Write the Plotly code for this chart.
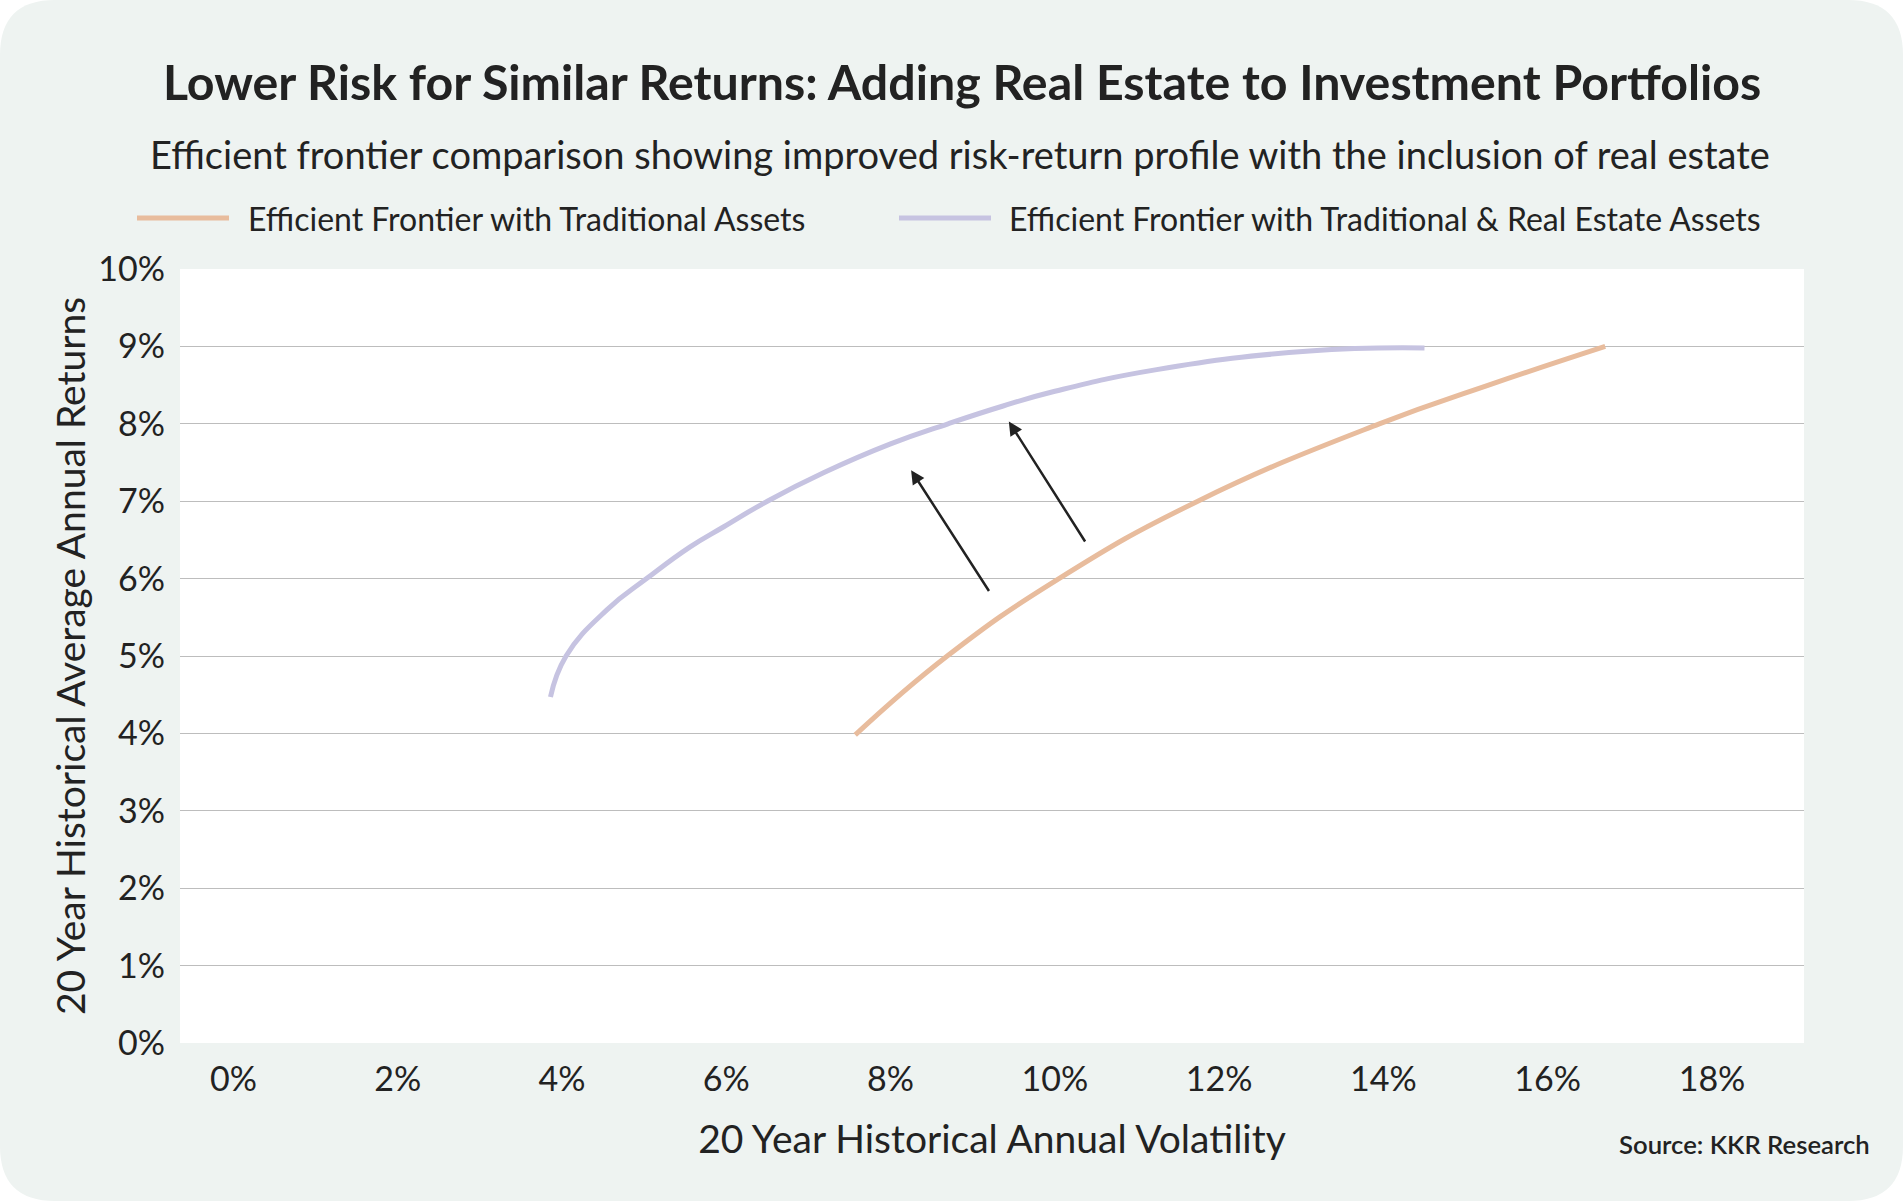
import plotly.graph_objects as go

# ---------------- data ----------------
trad_vol = [7.57, 8.69, 10.05, 11.74, 13.95, 15.28, 16.7]
trad_ret = [3.98, 5.0, 6.0, 7.0, 8.0, 8.5, 9.0]

re_vol = [3.86, 4.05, 4.55, 5.03, 5.56, 5.97, 6.5, 7.19, 8.0, 8.7, 9.37, 10.0, 11.24, 13.1, 14.5]
re_ret = [4.47, 5.0, 5.6, 6.0, 6.41, 6.67, 7.0, 7.37, 7.74, 8.0, 8.23, 8.42, 8.70, 8.94, 8.98]

series_names = ["Efficient Frontier with Traditional Assets",
                "Efficient Frontier with Traditional & Real Estate Assets"]
series_colors = ["#E8BC9D", "#C6C3E1"]

x_ticks = [0, 2, 4, 6, 8, 10, 12, 14, 16, 18]
x_labels = [f"{v}%" for v in x_ticks]
y_ticks = list(range(0, 11))
y_labels = [f"{v}%" for v in y_ticks]

# arrows: (tail_x, tail_y, head_x, head_y)
arrows = [(9.21, 5.82, 8.25, 7.40), (10.38, 6.46, 9.44, 8.03)]

title = "Lower Risk for Similar Returns: Adding Real Estate to Investment Portfolios"
subtitle = "Efficient frontier comparison showing improved risk-return profile with the inclusion of real estate"
x_title = "20 Year Historical Annual Volatility"
y_title = "20 Year Historical Average Annual Returns"
source = "Source: KKR Research"

# ---------------- layout geometry ----------------
W, H = 1903, 1201
L, R, T, B = 180, 99, 269, 158
PW, PH = W - L - R, H - T - B
FONT = "Lato"
TXT = "#222222"
CARD = "#EEF3F1"


def px(x):
    return (x - L) / PW


def py(y):
    return (H - B - y) / PH


fig = go.Figure()
fig.add_trace(go.Scatter(x=trad_vol, y=trad_ret, mode="lines", name=series_names[0],
                         line=dict(color=series_colors[0], width=5, shape="spline", smoothing=1.3),
                         showlegend=False))
fig.add_trace(go.Scatter(x=re_vol, y=re_ret, mode="lines", name=series_names[1],
                         line=dict(color=series_colors[1], width=5, shape="spline", smoothing=1.3),
                         showlegend=False))

shapes = []
# rounded card background
r = 55
path = (f"M {px(r)},{py(0)} L {px(W - r)},{py(0)} Q {px(W)},{py(0)} {px(W)},{py(r)} "
        f"L {px(W)},{py(H - r)} Q {px(W)},{py(H)} {px(W - r)},{py(H)} "
        f"L {px(r)},{py(H)} Q {px(0)},{py(H)} {px(0)},{py(H - r)} "
        f"L {px(0)},{py(r)} Q {px(0)},{py(0)} {px(r)},{py(0)} Z")
shapes.append(dict(type="path", path=path, xref="paper", yref="paper",
                   fillcolor=CARD, line=dict(width=0), layer="below"))
# white plot area
shapes.append(dict(type="rect", xref="paper", yref="paper", x0=0, x1=1, y0=0, y1=1,
                   fillcolor="white", line=dict(width=0), layer="below"))

# custom legend
legend_items = [(137, 229, 246), (899, 991, 1007)]
legend_y = 218
annotations = []
for (x0, x1, xt), name, col in zip(legend_items, series_names, series_colors):
    shapes.append(dict(type="line", xref="paper", yref="paper", x0=px(x0), x1=px(x1),
                       y0=py(legend_y), y1=py(legend_y), line=dict(color=col, width=5)))
    annotations.append(dict(text=name, xref="paper", yref="paper", x=px(xt), y=py(legend_y),
                            xanchor="left", yanchor="middle", showarrow=False,
                            font=dict(family=FONT, size=32, color=TXT)))

annotations.append(dict(text=f"<b>{title}</b>", xref="paper", yref="paper", x=px(962), y=py(81),
                        xanchor="center", yanchor="middle", showarrow=False,
                        font=dict(family=FONT, size=48.3, color=TXT)))
annotations.append(dict(text=subtitle, xref="paper", yref="paper", x=px(960), y=py(154),
                        xanchor="center", yanchor="middle", showarrow=False,
                        font=dict(family=FONT, size=38, color=TXT)))
annotations.append(dict(text=source, xref="paper", yref="paper", x=px(1872), y=py(1144),
                        xanchor="right", yanchor="middle", showarrow=False,
                        font=dict(family=FONT, size=25.7, color=TXT, weight=600)))
# y axis title
annotations.append(dict(text=y_title, xref="paper", yref="paper", x=px(70), y=0.5,
                        xanchor="center", yanchor="middle", textangle=-90, showarrow=False,
                        font=dict(family=FONT, size=39, color=TXT)))

for tx, ty, hx, hy in arrows:
    annotations.append(dict(x=hx, y=hy, ax=tx, ay=ty, xref="x", yref="y", axref="x", ayref="y",
                            text="", showarrow=True, arrowhead=2, arrowsize=1.1, arrowwidth=2.5,
                            arrowcolor="#222222", standoff=0, startstandoff=0))

fig.update_layout(
    width=W, height=H,
    margin=dict(l=L, r=R, t=T, b=B, pad=0),
    paper_bgcolor="white",
    plot_bgcolor="rgba(0,0,0,0)",
    showlegend=False,
    shapes=shapes,
    annotations=annotations,
    font=dict(family=FONT, color=TXT),
)
fig.update_xaxes(range=[-0.65, 19.12], tickvals=x_ticks, ticktext=x_labels,
                 showgrid=False, zeroline=False, showline=False,
                 tickfont=dict(family=FONT, size=34, color=TXT), ticklabelstandoff=13,
                 title=dict(text=x_title, font=dict(family=FONT, size=39, color=TXT), standoff=28))
fig.update_yaxes(range=[0, 10], tickvals=y_ticks, ticktext=y_labels,
                 showgrid=True, gridcolor="#BDBDBD", gridwidth=1.3, zeroline=False, showline=False,
                 tickfont=dict(family=FONT, size=34, color=TXT), ticklabelstandoff=14)

fig.write_html("out.html", config={"displayModeBar": False},
               post_script="document.body.style.margin='0';document.body.style.overflow='hidden';")
